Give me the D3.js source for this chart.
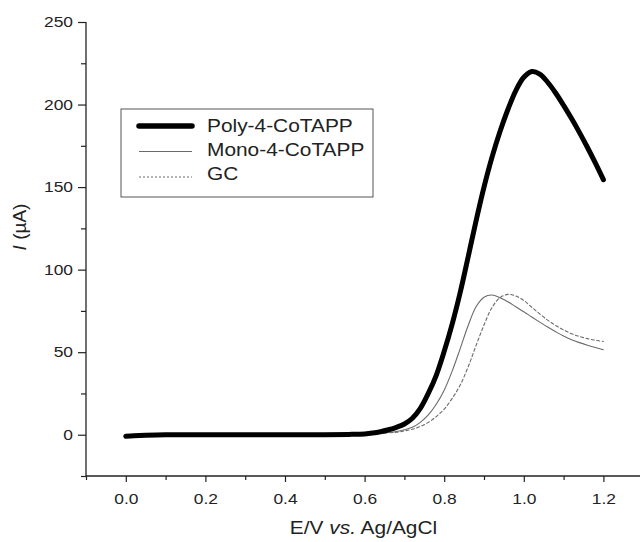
<!DOCTYPE html>
<html>
<head>
<meta charset="utf-8">
<script src="https://cdn.jsdelivr.net/npm/d3@7"></script>
<style>
  body { margin: 0; background: #fff; }
  svg { display: block; }
  text { font-family: "Liberation Sans", Arial, sans-serif; fill: #222; }
</style>
</head>
<body>
<div id="chart"></div>
<script>
/*** DATA ***/
// potential E (V vs Ag/AgCl) and current I (uA)
var polyE = [0.00, 0.02, 0.05, 0.10, 0.20, 0.30, 0.40, 0.50, 0.56, 0.60, 0.62, 0.64, 0.66, 0.68, 0.70, 0.72, 0.74, 0.76, 0.78, 0.80, 0.82, 0.84, 0.86, 0.88, 0.90, 0.92, 0.94, 0.96, 0.98, 1.00, 1.02, 1.04, 1.06, 1.08, 1.10, 1.12, 1.14, 1.16, 1.18, 1.20];
var polyI = [-0.9, -0.6, -0.3, 0, 0, 0, 0, 0, 0.2, 0.5, 1, 1.8, 3, 4.5, 6.5, 10, 16, 25, 36, 50.5, 67, 86, 107.5, 129.5, 150, 168, 183.5, 197, 208.5, 216.5, 220, 218.5, 213.5, 207, 199.5, 191.5, 183, 174, 164.5, 154.5];

var monoE = [0.00, 0.20, 0.40, 0.56, 0.60, 0.64, 0.68, 0.70, 0.72, 0.74, 0.76, 0.78, 0.80, 0.82, 0.84, 0.86, 0.88, 0.90, 0.92, 0.94, 0.96, 0.98, 1.00, 1.02, 1.04, 1.06, 1.08, 1.10, 1.12, 1.14, 1.16, 1.18, 1.20];
var monoI = [0, 0, 0, 0.2, 0.5, 1, 2, 3, 4.5, 7.5, 12, 18.5, 27, 38.5, 52, 66, 77.5, 83.3, 84.6, 83, 80.5, 77.5, 74.5, 71.3, 68.2, 65.2, 62.4, 59.8, 57.6, 55.8, 54.2, 52.8, 51.5];

var gcE = [0.00, 0.20, 0.40, 0.56, 0.60, 0.64, 0.68, 0.70, 0.72, 0.74, 0.76, 0.78, 0.80, 0.82, 0.84, 0.86, 0.88, 0.90, 0.92, 0.94, 0.96, 0.98, 1.00, 1.02, 1.04, 1.06, 1.08, 1.10, 1.12, 1.14, 1.16, 1.18, 1.20];
var gcI = [0, 0, 0, 0.2, 0.5, 1, 1.5, 2.3, 3.3, 5, 7.5, 11, 15.5, 22, 30, 41, 54, 66.5, 77, 83, 85, 84, 81.3, 77.2, 73.2, 69.4, 66.2, 63.5, 61.2, 59.5, 58.2, 57.2, 56.5];

var seriesNames = ['Poly-4-CoTAPP', 'Mono-4-CoTAPP', 'GC'];
var xMajorTicks = [0, 0.2, 0.4, 0.6, 0.8, 1.0, 1.2];
var xMinorTicks = [-0.1, 0.1, 0.3, 0.5, 0.7, 0.9, 1.1, 1.3];
var yMajorTicks = [0, 50, 100, 150, 200, 250];
var yMinorTicks = [-25, 25, 75, 125, 175, 225];

/*** SETUP ***/
var width = 640, height = 542;
var stretchX = 1.16; // source picture is a bit wider than tall

var svg = d3.select('#chart').append('svg')
  .attr('width', width)
  .attr('height', height);

var x = d3.scaleLinear().domain([-0.1, 1.3]).range([86, 643.2]);
var y = d3.scaleLinear().domain([-25, 250]).range([476, 22]);

var series = [
  { name: seriesNames[0], data: d3.zip(polyE, polyI), stroke: '#000', width: 5, dash: null },
  { name: seriesNames[1], data: d3.zip(monoE, monoI), stroke: '#6a6a6a', width: 1.1, dash: null },
  { name: seriesNames[2], data: d3.zip(gcE, gcI), stroke: '#6a6a6a', width: 1.1, dash: '3,2.5' }
];

/*** AXES ***/
function stretchText(sel) {
  sel.each(function() {
    var t = d3.select(this);
    var tx = +t.attr('x') || 0;
    t.attr('x', tx / stretchX).attr('transform', 'scale(' + stretchX + ',1)');
  });
}

//minor ticks
svg.append('g')
  .attr('class', 'x-minor')
  .attr('transform', 'translate(0,476)')
  .call(d3.axisBottom(x).tickValues(xMinorTicks).tickSize(4).tickFormat(''));
svg.append('g')
  .attr('class', 'y-minor')
  .attr('transform', 'translate(86,0)')
  .call(d3.axisLeft(y).tickValues(yMinorTicks).tickSize(5).tickFormat(''));

//major ticks
var xAxis = svg.append('g')
  .attr('class', 'x-axis')
  .attr('transform', 'translate(0,476)')
  .call(d3.axisBottom(x).tickValues(xMajorTicks).tickSize(6).tickPadding(11).tickFormat(d3.format('.1f')));
var yAxis = svg.append('g')
  .attr('class', 'y-axis')
  .attr('transform', 'translate(86,0)')
  .call(d3.axisLeft(y).tickValues(yMajorTicks).tickSize(8).tickPadding(5).tickFormat(d3.format('d')));

svg.selectAll('.domain').remove();
svg.selectAll('.tick line').attr('stroke', '#222').attr('stroke-width', 1.2);
svg.selectAll('.x-axis text, .y-axis text')
  .attr('font-size', 15)
  .attr('font-family', '"Liberation Sans", Arial, sans-serif')
  .attr('fill', '#2a2a2a');
stretchText(svg.selectAll('.x-axis text, .y-axis text'));

//axis lines
svg.append('line')
  .attr('x1', 86).attr('x2', 86)
  .attr('y1', y(250)).attr('y2', 476)
  .attr('stroke', '#222').attr('stroke-width', 1.3);
svg.append('line')
  .attr('x1', 86).attr('x2', width)
  .attr('y1', 476).attr('y2', 476)
  .attr('stroke', '#222').attr('stroke-width', 1.3);

//axis titles
var xTitle = svg.append('text')
  .attr('text-anchor', 'middle')
  .attr('font-size', 18)
  .attr('transform', 'translate(363.5,534) scale(' + stretchX + ',1)');
xTitle.append('tspan').text('E/V ');
xTitle.append('tspan').attr('font-style', 'italic').text('vs.');
xTitle.append('tspan').text(' Ag/AgCl');

var yTitle = svg.append('text')
  .attr('text-anchor', 'middle')
  .attr('font-size', 19)
  .attr('transform', 'translate(26,227) rotate(-90)');
yTitle.append('tspan').attr('font-style', 'italic').text('I');
yTitle.append('tspan').text(' (\u00B5A)');

/*** CURVES ***/
var line = d3.line()
  .x(function(d) { return x(d[0]); })
  .y(function(d) { return y(d[1]); })
  .curve(d3.curveCatmullRom.alpha(0.5));

//draw thin ones first so the thick trace sits on top
series.slice().reverse().forEach(function(s) {
  svg.append('path')
    .datum(s.data)
    .attr('fill', 'none')
    .attr('stroke', s.stroke)
    .attr('stroke-width', s.width)
    .attr('stroke-linecap', 'round')
    .attr('stroke-linejoin', 'round')
    .attr('stroke-dasharray', s.dash)
    .attr('d', line);
});

/*** LEGEND ***/
var legend = svg.append('g').attr('class', 'legend');
legend.append('rect')
  .attr('x', 121).attr('y', 109)
  .attr('width', 252).attr('height', 88)
  .attr('fill', '#fff')
  .attr('stroke', '#555')
  .attr('stroke-width', 1);

series.forEach(function(s, i) {
  var ly = 126 + i * 25.5;
  legend.append('line')
    .attr('x1', 139).attr('x2', 192)
    .attr('y1', ly).attr('y2', ly)
    .attr('stroke', s.stroke)
    .attr('stroke-width', i == 0 ? 5.5 : 1)
    .attr('stroke-linecap', i == 0 ? 'round' : 'butt')
    .attr('stroke-dasharray', i == 2 ? '2,2' : null);
  legend.append('text')
    .attr('font-size', 18)
    .attr('transform', 'translate(207,' + (132 + i * 24) + ') scale(' + stretchX + ',1)')
    .text(s.name);
});
</script>
</body>
</html>
